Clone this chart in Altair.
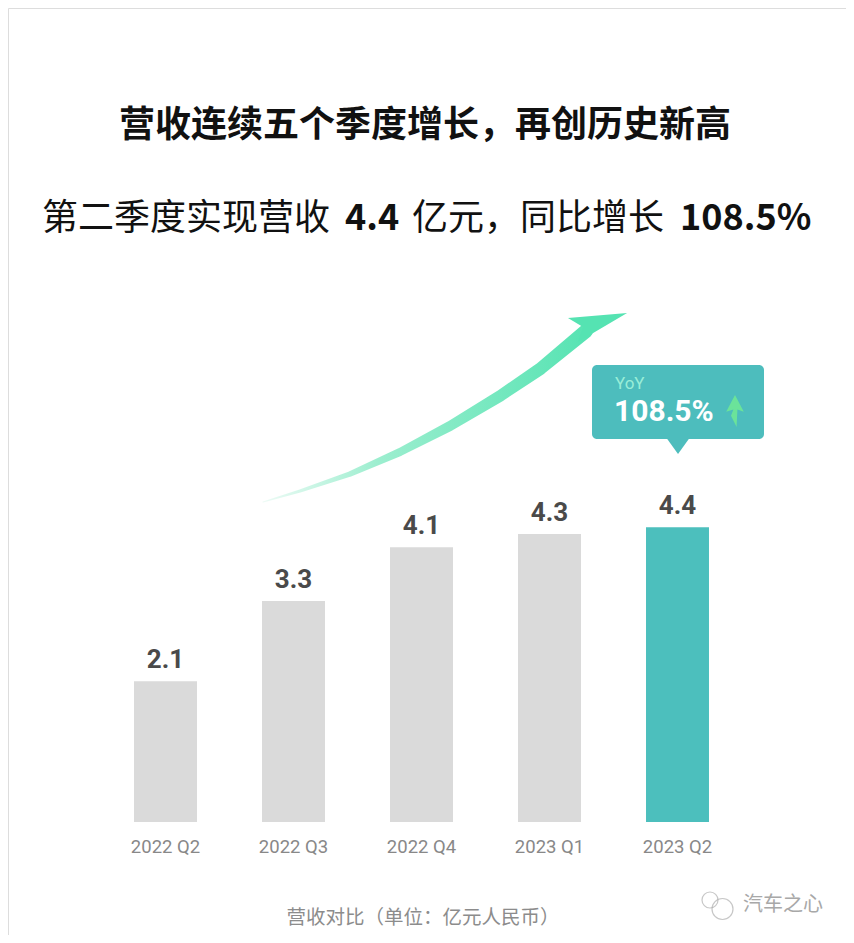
import altair as alt
import pandas as pd

# ---- data ----
quarters = ["2022 Q2", "2022 Q3", "2022 Q4", "2023 Q1", "2023 Q2"]
revenue = [2.1, 3.3, 4.1, 4.3, 4.4]
highlight = ["no", "no", "no", "no", "yes"]

title_text = "营收连续五个季度增长，再创历史新高"
sub_parts = ["第二季度实现营收", "4.4", "亿元，", "同比增长", "108.5%"]
yoy_label = "YoY"
yoy_value = "108.5%"
footer_text = "营收对比（单位：亿元人民币）"
brand_text = "汽车之心"

# decorative trend arrow (pixel space)
arrow_x = [255, 292, 342, 392, 442, 492, 532, 578]
arrow_y = [494, 483, 466, 444, 418, 388, 361, 323]
arrow_w = [1, 3, 5.5, 8, 10, 11.5, 12.5, 14]

df = pd.DataFrame({"q": quarters, "v": revenue, "h": highlight})
arrow_df = pd.DataFrame({"ax": arrow_x, "ay": arrow_y, "aw": arrow_w, "o": list(range(len(arrow_x)))})
one = pd.DataFrame({"d": [0]})

W, H = 838, 927
CJK = "Noto Sans CJK SC"

xs = alt.Scale(range=[93.5, 733.5], paddingInner=0.508, paddingOuter=0.254)
ys = alt.Scale(domain=[0, 5], range=[814, 479], nice=False, zero=True)
X = alt.X("q:N", sort=quarters, scale=xs, axis=None)
Y = alt.Y("v:Q", scale=ys, axis=None)

base = alt.Chart(df)
bars = base.mark_bar().encode(
    x=X, y=Y,
    color=alt.Color("h:N", scale=alt.Scale(domain=["no", "yes"], range=["#dadada", "#4cbfbd"]), legend=None),
)
vals = base.mark_text(font="Roboto", fontSize=26, fontWeight="bold", color="#4a4a4a",
                      baseline="alphabetic", dy=-13).encode(
    x=X, y=Y, text=alt.Text("v:Q", format=".1f"))
cats = base.mark_text(font="Roboto", fontSize=18.5, color="#888888", baseline="middle").encode(
    x=X, y=alt.value(839), text="q:N")

grad = alt.LinearGradient(gradient="linear", x1=0, y1=0, x2=1, y2=0,
                          stops=[alt.GradientStop(offset=0, color="#eefbf6"),
                                 alt.GradientStop(offset=0.35, color="#9ceecf"),
                                 alt.GradientStop(offset=1, color="#55e3b2")])
trail = alt.Chart(arrow_df).mark_trail(fill=grad).encode(
    x=alt.X("ax:Q", scale=alt.Scale(domain=[0, W], range=[0, W], nice=False, zero=False), axis=None),
    y=alt.Y("ay:Q", scale=alt.Scale(domain=[0, H], range=[0, H], nice=False, zero=False), axis=None),
    size=alt.Size("aw:Q", scale=None, legend=None),
    order="o:O",
)
head = alt.Chart(one).mark_point(shape="M -1 -0.23 L 0.97 -0.4 L -0.67 0.57 L -0.5 0.07 Z", filled=True,
                                 fill="#55e3b2", strokeWidth=0, opacity=1, size=3600).encode(
    x=alt.value(590), y=alt.value(317))

# callout box
box = alt.Chart(one).mark_rect(color="#4dbdbd", cornerRadius=5).encode(
    x=alt.value(584), x2=alt.value(756), y=alt.value(357), y2=alt.value(431))
pointer = alt.Chart(one).mark_point(shape="M -1 -0.7 L 1 -0.7 L 0 0.7 Z", filled=True,
                                    fill="#4dbdbd", strokeWidth=0, opacity=1, size=529).encode(
    x=alt.value(670), y=alt.value(438))
yoy1 = alt.Chart(one).mark_text(text=yoy_label, font="Roboto", fontSize=17, color="#9aeed8",
                                align="left", baseline="middle").encode(x=alt.value(607), y=alt.value(376))
yoy2 = alt.Chart(one).mark_text(text=yoy_value, font="Roboto", fontSize=30, fontWeight="bold",
                                color="#ffffff", align="left", baseline="middle").encode(
    x=alt.value(606), y=alt.value(404))
uparrow = alt.Chart(one).mark_point(
    shape="M 0 -1 L 0.55 0.05 L 0.15 -0.1 L 0.1 1 L -0.25 0.3 L -0.1 -0.1 L -0.55 0.05 Z",
    filled=True, fill="#6be39a", strokeWidth=0, opacity=1, size=1024).encode(
    x=alt.value(727), y=alt.value(403))

# titles
title = alt.Chart(one).mark_text(text=title_text, font=CJK, fontSize=36, fontWeight="bold",
                                 color="#111111", align="center", baseline="middle").encode(
    x=alt.value(417), y=alt.value(118))
sub_x = [34, 337, 404, 512, 672]
sub_bold = [False, True, False, False, True]
subs = []
for t, sx, b in zip(sub_parts, sub_x, sub_bold):
    subs.append(alt.Chart(one).mark_text(text=t, font=CJK, fontSize=36,
                                         fontWeight="bold" if b else "normal",
                                         color="#111111", align="left", baseline="middle").encode(
        x=alt.value(sx), y=alt.value(211)))

footer = alt.Chart(one).mark_text(text=footer_text, font=CJK, fontSize=19.5, color="#8c8c8c",
                                  align="center", baseline="middle").encode(x=alt.value(415), y=alt.value(910))
brand = alt.Chart(one).mark_text(text=brand_text, font=CJK, fontSize=20, color="#a8a8a8",
                                 align="left", baseline="middle").encode(x=alt.value(735), y=alt.value(897))
c1 = alt.Chart(one).mark_point(shape="circle", filled=False, stroke="#b0b0b0", strokeWidth=1.2,
                               size=256).encode(x=alt.value(702), y=alt.value(892))
c2 = alt.Chart(one).mark_point(shape="circle", filled=False, stroke="#b0b0b0", strokeWidth=1.2,
                               size=441).encode(x=alt.value(714.5), y=alt.value(901))

chart = alt.layer(
    bars, vals, cats, trail, head, box, pointer, yoy1, yoy2, uparrow,
    title, *subs, footer, c1, c2, brand,
).resolve_scale(x="independent", y="independent").properties(
    width=W, height=H, autosize=alt.AutoSizeParams(type="none"), padding=0
).configure_view(stroke=None).configure(background="#ffffff")

chart.save("out.html", embed_options={"renderer": "svg", "actions": False})
